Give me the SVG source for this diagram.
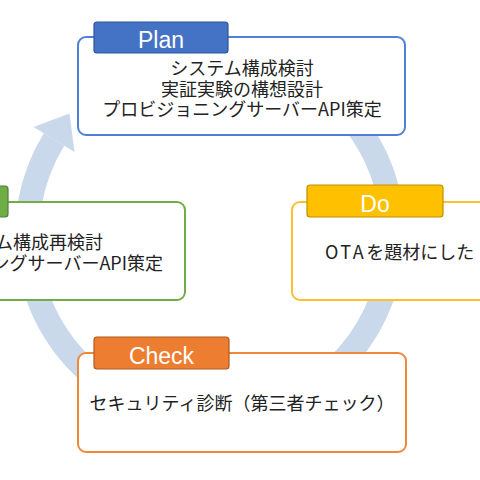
<svg xmlns="http://www.w3.org/2000/svg" width="480" height="480" viewBox="0 0 480 480">
<style>
.box{fill:#ffffff;stroke-width:2}
.tab{stroke-width:1.2}
.lbl{font-family:"Liberation Sans",Arial,sans-serif;font-size:23px;fill:#ffffff;text-anchor:middle}
.txt{font-family:"Noto Sans CJK JP","Noto Sans CJK SC",sans-serif;font-size:18px;fill:#222222}
.mid{text-anchor:middle}
.end{text-anchor:end}
</style>
<rect x="0" y="0" width="480" height="480" fill="#ffffff"/>
<g id="connectors">
<path d="M301.5 76.5 A183 183 0 1 1 54 139.4" fill="none" stroke="#cad8ec" stroke-width="24"/>
<polygon points="33.5,126.9 74.5,151.9 69.5,113.5" fill="#cad8ec"/>
</g>
<g id="plan">
<rect class="box" x="78" y="37" width="327" height="98" rx="8" stroke="#4f7fd6"/>
<rect class="tab" x="94" y="22" width="134" height="31" rx="3" fill="#4472c4" stroke="#2f5597"/>
<text class="lbl" x="161" y="48">Plan</text>
<text class="txt mid" x="242" y="75">システム構成検討</text>
<text class="txt mid" x="242" y="95.5">実証実験の構想設計</text>
<text class="txt mid" x="242" y="116">プロビジョニングサーバーAPI策定</text>
</g>
<g id="do">
<rect class="box" x="292" y="202" width="327" height="98" rx="8" stroke="#fbc02d"/>
<rect class="tab" x="307" y="185" width="136" height="32" rx="3" fill="#ffc000" stroke="#bf9000"/>
<text class="lbl" x="375" y="212">Do</text>
<text class="txt" x="325" y="259"><tspan letter-spacing="2.5">OTA</tspan>を題材にした</text>
</g>
<g id="check">
<rect class="box" x="78" y="353" width="328" height="99" rx="8" stroke="#f0883a"/>
<rect class="tab" x="94" y="337" width="135" height="32" rx="3" fill="#ed7d31" stroke="#ae5a21"/>
<text class="lbl" x="161.5" y="364">Check</text>
<text class="txt mid" x="242" y="410">セキュリティ診断（第三者チェック）</text>
</g>
<g id="act">
<rect class="box" x="-142" y="202" width="327" height="98" rx="8" stroke="#70ad47"/>
<rect class="tab" x="-126" y="186" width="134" height="31" rx="3" fill="#70ad47" stroke="#507e32"/>
<text class="txt end" x="103" y="248.5">ム構成再検討</text>
<text class="txt end" x="163" y="270">ングサーバーAPI策定</text>
</g>
</svg>
